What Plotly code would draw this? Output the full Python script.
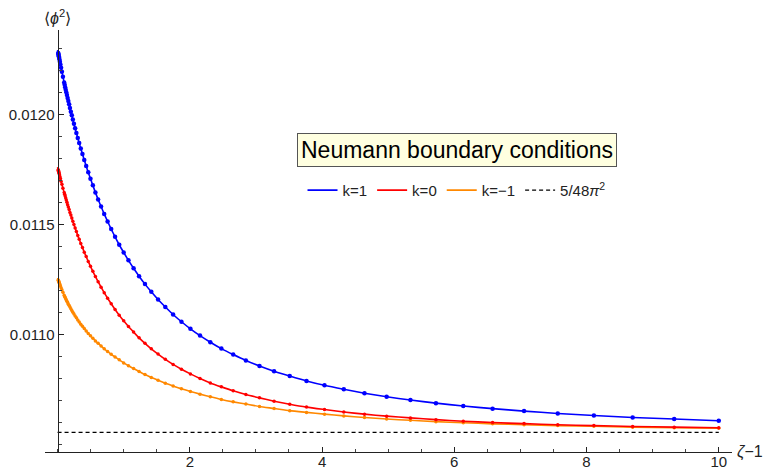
import plotly.graph_objects as go

# zeta - 1 sample positions (first entry is the analytic start of the curves)
zeta_m1 = [0.0, 0.0100, 0.01233, 0.01520, 0.01874, 0.02310, 0.02848, 0.03511, 0.04329,
           0.05337, 0.06579, 0.08111, 0.1000, 0.10723, 0.11498, 0.12328, 0.13219, 0.14175,
           0.15199, 0.16298, 0.17475, 0.18738, 0.20092, 0.21544, 0.23101, 0.24771, 0.26561,
           0.28480, 0.30539, 0.32745, 0.35112, 0.37649, 0.40370, 0.43288, 0.46416, 0.49770,
           0.53367, 0.57224, 0.61359, 0.65793, 0.70548, 0.75646, 0.81113, 0.86975, 0.93260,
           1.0000, 1.0723, 1.1498, 1.2328, 1.3219, 1.4175, 1.5199, 1.6298, 1.7475, 1.8738,
           2.0092, 2.1544, 2.3101, 2.4771, 2.6561, 2.8480, 3.0539, 3.2745, 3.5112, 3.7649,
           4.0370, 4.3288, 4.6416, 4.9770, 5.3367, 5.7224, 6.1359, 6.5793, 7.0548, 7.5646,
           8.1113, 8.6975, 9.3260, 10.000]

phi2_k1 = [0.012292, 0.012278, 0.012274, 0.012269, 0.012264, 0.012257, 0.012249, 0.012239,
           0.012226, 0.012211, 0.012193, 0.012171, 0.012144, 0.012134, 0.012123, 0.012112,
           0.012100, 0.012088, 0.012074, 0.012060, 0.012045, 0.012029, 0.012012, 0.011995,
           0.011976, 0.011957, 0.011936, 0.011915, 0.011892, 0.011869, 0.011844, 0.011819,
           0.011792, 0.011765, 0.011736, 0.011707, 0.011677, 0.011645, 0.011613, 0.011581,
           0.011547, 0.011513, 0.011478, 0.011443, 0.011407, 0.011372, 0.011336, 0.011300,
           0.011264, 0.011228, 0.011193, 0.011158, 0.011124, 0.011090, 0.011057, 0.011025,
           0.010994, 0.010964, 0.010935, 0.010908, 0.010881, 0.010856, 0.010832, 0.010810,
           0.010788, 0.010768, 0.010750, 0.010732, 0.010716, 0.010701, 0.010687, 0.010674,
           0.010662, 0.010651, 0.010640, 0.010631, 0.010622, 0.010615, 0.010607]

phi2_k0 = [0.011760, 0.011748, 0.011745, 0.011741, 0.011737, 0.011732, 0.011725, 0.011717,
           0.011708, 0.011696, 0.011682, 0.011664, 0.011644, 0.011636, 0.011628, 0.011619,
           0.011610, 0.011600, 0.011589, 0.011578, 0.011567, 0.011554, 0.011542, 0.011528,
           0.011514, 0.011499, 0.011483, 0.011467, 0.011449, 0.011432, 0.011413, 0.011394,
           0.011373, 0.011353, 0.011331, 0.011309, 0.011286, 0.011263, 0.011239, 0.011214,
           0.011189, 0.011164, 0.011139, 0.011113, 0.011087, 0.011061, 0.011035, 0.011010,
           0.010984, 0.010959, 0.010934, 0.010910, 0.010886, 0.010863, 0.010841, 0.010820,
           0.010799, 0.010779, 0.010761, 0.010743, 0.010726, 0.010711, 0.010696, 0.010682,
           0.010669, 0.010658, 0.010647, 0.010637, 0.010628, 0.010620, 0.010612, 0.010605,
           0.010599, 0.010594, 0.010589, 0.010585, 0.010581, 0.010578, 0.010575]

phi2_km1 = [0.011256, 0.011247, 0.011245, 0.011242, 0.011239, 0.011236, 0.011231, 0.011226,
            0.011219, 0.011211, 0.011202, 0.011191, 0.011177, 0.011172, 0.011167, 0.011162,
            0.011156, 0.011150, 0.011144, 0.011137, 0.011131, 0.011124, 0.011116, 0.011108,
            0.011100, 0.011092, 0.011083, 0.011075, 0.011065, 0.011056, 0.011046, 0.011036,
            0.011026, 0.011015, 0.011004, 0.010993, 0.010982, 0.010970, 0.010959, 0.010947,
            0.010934, 0.010922, 0.010909, 0.010897, 0.010884, 0.010870, 0.010857, 0.010844,
            0.010831, 0.010817, 0.010804, 0.010791, 0.010778, 0.010765, 0.010752, 0.010740,
            0.010728, 0.010716, 0.010704, 0.010693, 0.010683, 0.010672, 0.010663, 0.010653,
            0.010645, 0.010637, 0.010629, 0.010622, 0.010615, 0.010609, 0.010603, 0.010598,
            0.010593, 0.010589, 0.010585, 0.010582, 0.010578, 0.010575, 0.010573]

asymptote_x = [0.0, 10.0]
asymptote_value = 0.0105544  # 5/(48 pi^2)

series_names = ["k=1", "k=0", "k=\u22121"]
series_colors = ["#0000FF", "#FF0000", "#FF8800"]
series_values = [phi2_k1, phi2_k0, phi2_km1]
marker_sizes = [4.5, 3.5, 3.5]

x_tick_vals = [2, 4, 6, 8, 10]
x_tick_text = ["2", "4", "6", "8", "10"]
y_tick_vals = [0.0110, 0.0115, 0.0120]
y_tick_text = ["0.0110", "0.0115", "0.0120"]
x_minor_vals = [i * 0.5 for i in range(0, 21)]
y_minor_vals = [0.0105 + i * 0.0001 for i in range(0, 19)]

X_RANGE = [-0.19, 10.2]
Y_RANGE = [0.010465, 0.012383]

fig = go.Figure()

# draw order: orange, red, blue
for idx in [2, 1, 0]:
    fig.add_trace(go.Scatter(
        x=zeta_m1, y=series_values[idx], mode="lines",
        line=dict(color=series_colors[idx], width=1.6, shape="spline", smoothing=0.6),
        name=series_names[idx], showlegend=False, hoverinfo="skip"))
    fig.add_trace(go.Scatter(
        x=zeta_m1[1:], y=series_values[idx][1:], mode="markers",
        marker=dict(color=series_colors[idx], size=marker_sizes[idx], line=dict(width=0)),
        showlegend=False, hoverinfo="skip"))

fig.add_trace(go.Scatter(
    x=asymptote_x, y=[asymptote_value] * len(asymptote_x), mode="lines",
    line=dict(color="black", width=1.2, dash="4px,3px"),
    showlegend=False, hoverinfo="skip"))

# legend entries (line samples only), in reading order
for idx in [0, 1, 2]:
    fig.add_trace(go.Scatter(
        x=[None], y=[None], mode="lines",
        line=dict(color=series_colors[idx], width=1.6),
        name=series_names[idx], showlegend=True))
fig.add_trace(go.Scatter(
    x=[None], y=[None], mode="lines",
    line=dict(color="black", width=1.2, dash="4px,3px"),
    name="5/48<i>\u03c0</i><sup>2</sup>", showlegend=True))

L, R, T, B = 45, 38, 30, 18
W, H = 770, 470
yaxis_pos = (0 - X_RANGE[0]) / (X_RANGE[1] - X_RANGE[0])

font_family = "Liberation Sans, Arial, sans-serif"
tick_font = dict(family=font_family, size=15, color="#222222")

fig.update_layout(
    width=W, height=H,
    margin=dict(l=L, r=R, t=T, b=B, autoexpand=False),
    paper_bgcolor="white", plot_bgcolor="white",
    font=dict(family=font_family, color="#222222"),
    xaxis=dict(
        range=X_RANGE, domain=[0, 1], showgrid=False, zeroline=False, automargin=False,
        showline=True, linecolor="#222222", linewidth=1,
        tickmode="array", tickvals=x_tick_vals, ticktext=x_tick_text,
        ticks="inside", ticklen=5, tickwidth=1, tickcolor="#222222",
        tickfont=tick_font, ticklabelstandoff=-4,
        minor=dict(tickmode="array", tickvals=x_minor_vals, ticks="inside",
                   ticklen=3, tickwidth=0.8, tickcolor="#444444"),
    ),
    yaxis=dict(
        range=Y_RANGE, anchor="free", position=yaxis_pos, automargin=False,
        showgrid=False, zeroline=False,
        showline=True, linecolor="#222222", linewidth=1,
        tickmode="array", tickvals=y_tick_vals, ticktext=y_tick_text,
        ticks="inside", ticklen=5, tickwidth=1, tickcolor="#222222",
        tickfont=tick_font,
        minor=dict(tickmode="array", tickvals=y_minor_vals, ticks="inside",
                   ticklen=3, tickwidth=0.8, tickcolor="#444444"),
    ),
    legend=dict(
        orientation="h", x=0.599, y=0.620, xanchor="center", yanchor="middle",
        font=dict(family=font_family, size=15, color="#222222"),
        itemwidth=30, bgcolor="rgba(0,0,0,0)", tracegroupgap=0,
    ),
    showlegend=True,
)

fig.add_annotation(
    text="\u27e8<i>\u03d5</i><sup>2</sup>\u27e9", xref="x", yref="paper",
    x=0, y=1.031, xanchor="center", yanchor="middle", showarrow=False,
    font=dict(family=font_family, size=16, color="#222222"))
fig.add_annotation(
    text="<i>\u03b6</i>\u22121", xref="paper", yref="paper",
    x=1.0267, y=0.0, xanchor="center", yanchor="middle", showarrow=False,
    font=dict(family=font_family, size=16, color="#222222"))
fig.add_annotation(
    text="Neumann boundary conditions", xref="paper", yref="paper",
    x=0.5993, y=0.7145, xanchor="center", yanchor="middle", showarrow=False,
    font=dict(family=font_family, size=23, color="black"),
    bgcolor="#FFFFE0", bordercolor="#555555", borderwidth=1, borderpad=3)

fig.write_html("out.html", config={"displayModeBar": False},
               post_script="document.body.style.margin='0px';")
